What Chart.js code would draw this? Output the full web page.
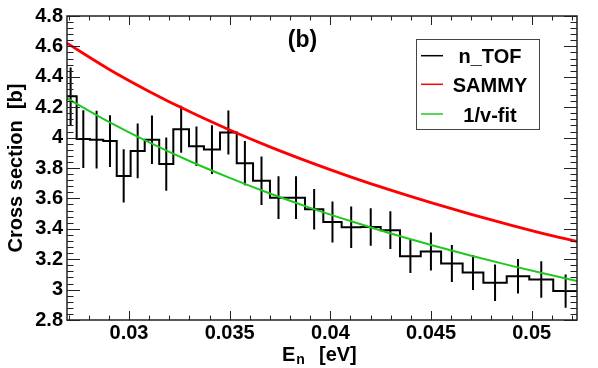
<!DOCTYPE html>
<html>
<head>
<meta charset="utf-8">
<script src="https://cdn.jsdelivr.net/npm/chart.js@4.4.1/dist/chart.umd.min.js"></script>
<style>
  html, body { margin: 0; padding: 0; background: #fff; }
  #myChart { display: block; }
</style>
</head>
<body>
<canvas id="myChart" width="598" height="368"></canvas>
<script>
// n_TOF histogram: bin edges (eV), cross sections (b), errors (b)
const binEdges = [0.02680, 0.02740, 0.02806, 0.02872, 0.02939, 0.03008, 0.03078, 0.03150,
  0.03220, 0.03298, 0.03372, 0.03452, 0.03535, 0.03616, 0.03700, 0.03785, 0.03874,
  0.03965, 0.04056, 0.04151, 0.04250, 0.04346, 0.04449, 0.04550, 0.04657, 0.04760,
  0.04876, 0.04988, 0.05107, 0.05230];
const nTofValues = [4.272, 3.990, 3.986, 3.977, 3.748, 3.912, 3.986, 3.826, 4.055, 3.943,
  3.921, 4.034, 3.832, 3.716, 3.605, 3.605, 3.529, 3.445, 3.410, 3.412, 3.391, 3.220,
  3.250, 3.172, 3.112, 3.045, 3.088, 3.066, 2.990];
const nTofErrors = [0.19, 0.19, 0.19, 0.17, 0.175, 0.18, 0.16, 0.175, 0.155, 0.13, 0.16,
  0.145, 0.146, 0.16, 0.14, 0.14, 0.133, 0.135, 0.137, 0.123, 0.124, 0.11, 0.125, 0.122,
  0.115, 0.12, 0.114, 0.12, 0.11];

// curves read along the energy axis
const curveE = [0.0269, 0.029, 0.031, 0.033, 0.035, 0.037, 0.039, 0.041, 0.043, 0.045,
  0.047, 0.049, 0.051, 0.0523];
const sammyValues = [4.623, 4.450, 4.304, 4.171, 4.050, 3.939, 3.837, 3.742, 3.654, 3.572,
  3.495, 3.423, 3.355, 3.315];
const fitValues = [4.260, 4.103, 3.968, 3.846, 3.735, 3.632, 3.538, 3.451, 3.369, 3.294,
  3.223, 3.156, 3.094, 3.055];

const seriesNames = ["n_TOF", "SAMMY", "1/v-fit"];
const seriesColors = ["#000000", "#ff0000", "#1fc81f"];

const xTickValues = [0.03, 0.035, 0.04, 0.045, 0.05];
const xTickLabels = ["0.03", "0.035", "0.04", "0.045", "0.05"];
const yTickValues = [2.8, 3, 3.2, 3.4, 3.6, 3.8, 4, 4.2, 4.4, 4.6, 4.8];
const yTickLabels = ["2.8", "3", "3.2", "3.4", "3.6", "3.8", "4", "4.2", "4.4", "4.6", "4.8"];

const FONT = "'Liberation Sans', Arial, Helvetica, sans-serif";

// step points (left edge of every bin + closing point)
const histPoints = nTofValues.map((v, i) => ({ x: binEdges[i], y: v }));
histPoints.push({ x: binEdges[binEdges.length - 1], y: nTofValues[nTofValues.length - 1] });

// error bars as separated vertical segments at bin centres
const errPoints = [];
nTofValues.forEach((v, i) => {
  const c = (binEdges[i] + binEdges[i + 1]) / 2;
  errPoints.push({ x: c, y: v - nTofErrors[i] }, { x: c, y: v + nTofErrors[i] }, { x: c, y: null });
});

const frameTicks = {
  id: "frameTicks",
  afterDatasetsDraw(chart) {
    const { ctx, chartArea: a, scales: { x, y } } = chart;
    ctx.save();
    ctx.strokeStyle = "#222";
    ctx.lineWidth = 1;
    ctx.beginPath();
    for (let k = 27; k <= 52; k++) {
      const px = Math.round(x.getPixelForValue(k / 1000)) + 0.5;
      const len = k % 5 === 0 ? 9 : 4.5;
      ctx.moveTo(px, a.bottom); ctx.lineTo(px, a.bottom - len);
      ctx.moveTo(px, a.top); ctx.lineTo(px, a.top + len);
    }
    for (let k = 70; k <= 120; k++) {
      const py = Math.round(y.getPixelForValue(k * 0.04)) + 0.5;
      const len = k % 5 === 0 ? 13 : 6.5;
      ctx.moveTo(a.left, py); ctx.lineTo(a.left + len, py);
      ctx.moveTo(a.right, py); ctx.lineTo(a.right - len, py);
    }
    ctx.stroke();
    ctx.lineWidth = 1.5;
    ctx.strokeRect(a.left, a.top, a.right - a.left, a.bottom - a.top);
    ctx.restore();
  },
  afterDraw(chart) {
    const { ctx, chartArea: a } = chart;
    ctx.save();
    ctx.fillStyle = "#000";
    // axis titles
    ctx.font = "bold 20px " + FONT;
    ctx.textBaseline = "alphabetic";
    ctx.textAlign = "left";
    ctx.fillText("E", 282, 360.5);
    const eW = ctx.measureText("E").width;
    ctx.font = "bold 14px " + FONT;
    ctx.fillText("n", 282 + eW + 1, 364);
    ctx.font = "bold 20px " + FONT;
    ctx.fillText("[eV]", 319, 360.5);

    ctx.save();
    ctx.translate(22, (a.top + a.bottom) / 2);
    ctx.rotate(-Math.PI / 2);
    ctx.textAlign = "center";
    ctx.fillText("Cross section  [b]", 0, 0);
    ctx.restore();

    // panel label
    ctx.font = "bold 23px " + FONT;
    ctx.textAlign = "center";
    ctx.fillText("(b)", 302.5, 47);

    // legend
    ctx.fillStyle = "#fff";
    ctx.fillRect(416, 39, 123, 90);
    ctx.strokeStyle = "#444";
    ctx.lineWidth = 1;
    ctx.strokeRect(416.5, 39.5, 123, 90);
    const rows = [55.7, 84.3, 114];
    ctx.font = "bold 20px " + FONT;
    seriesNames.forEach((name, i) => {
      ctx.strokeStyle = seriesColors[i];
      ctx.lineWidth = 1.5;
      ctx.beginPath();
      ctx.moveTo(421, rows[i]); ctx.lineTo(443, rows[i]);
      ctx.stroke();
      ctx.fillStyle = "#000";
      ctx.fillText(name, 490, rows[i] + 7.5);
    });
    ctx.restore();
  }
};

new Chart(document.querySelector("#myChart"), {
  type: "line",
  data: {
    datasets: [
      {
        label: seriesNames[0],
        data: histPoints,
        stepped: "before",
        borderColor: seriesColors[0],
        borderWidth: 2,
        pointRadius: 0,
        order: 3,
      },
      {
        label: seriesNames[0] + " errors",
        data: errPoints,
        borderColor: seriesColors[0],
        borderWidth: 2,
        pointRadius: 0,
        spanGaps: false,
        order: 2,
      },
      {
        label: seriesNames[1],
        data: curveE.map((e, i) => ({ x: e, y: sammyValues[i] })),
        borderColor: seriesColors[1],
        borderWidth: 2.8,
        pointRadius: 0,
        cubicInterpolationMode: "monotone",
        order: 1,
      },
      {
        label: seriesNames[2],
        data: curveE.map((e, i) => ({ x: e, y: fitValues[i] })),
        borderColor: seriesColors[2],
        borderWidth: 2,
        pointRadius: 0,
        cubicInterpolationMode: "monotone",
        order: 0,
      },
    ],
  },
  options: {
    responsive: false,
    animation: false,
    devicePixelRatio: 1,
    layout: { padding: { left: 0, right: 21, top: 12, bottom: 0 } },
    plugins: { legend: { display: false }, tooltip: { enabled: false } },
    scales: {
      x: {
        type: "linear",
        bounds: "data",
        min: 0.02692,
        max: 0.05225,
        grid: { display: false, drawTicks: false },
        border: { display: false },
        afterBuildTicks: (s) => { s.ticks = xTickValues.map((v) => ({ value: v })); },
        afterFit: (s) => { s.height = 48; },
        ticks: {
          autoSkip: false,
          maxRotation: 0,
          padding: 1,
          color: "#000",
          font: { family: FONT, size: 20, weight: "bold" },
          callback: (v, i) => xTickLabels[i],
        },
      },
      y: {
        type: "linear",
        bounds: "data",
        min: 2.8,
        max: 4.8,
        grid: { display: false, drawTicks: false },
        border: { display: false },
        afterBuildTicks: (s) => { s.ticks = yTickValues.map((v) => ({ value: v })); },
        afterFit: (s) => { s.width = 67; },
        ticks: {
          autoSkip: false,
          padding: 4,
          color: "#000",
          font: { family: FONT, size: 20, weight: "bold" },
          callback: (v, i) => yTickLabels[i],
        },
      },
    },
  },
  plugins: [frameTicks],
});
</script>
</body>
</html>
